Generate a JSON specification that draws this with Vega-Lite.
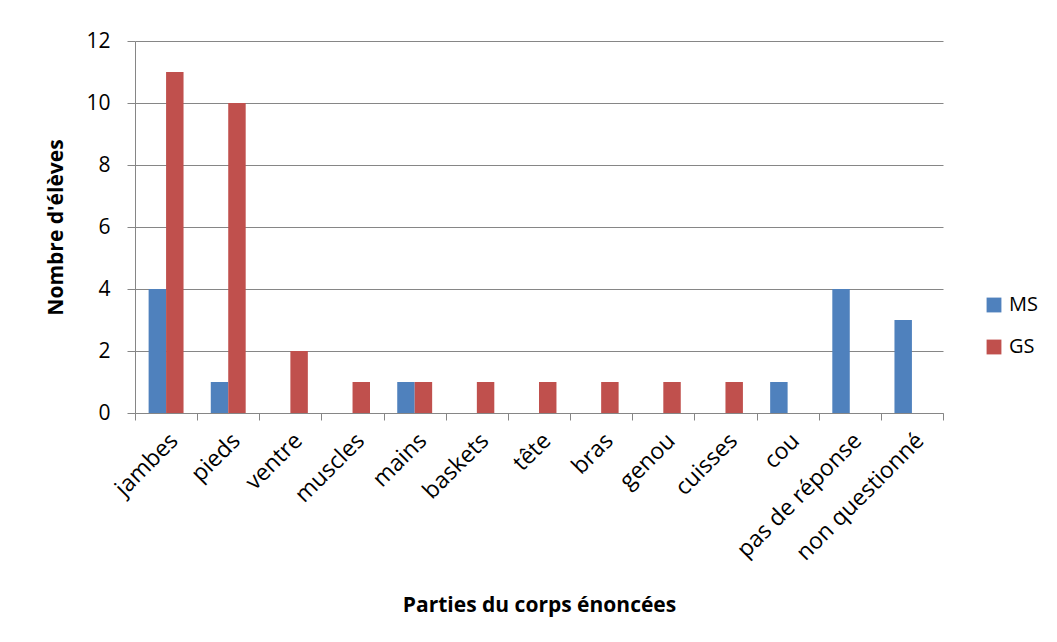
{
  "$schema": "https://vega.github.io/schema/vega-lite/v6.json",
  "autosize": "none",
  "width": 808,
  "height": 372,
  "padding": {"left": 135, "top": 41, "right": 114, "bottom": 229},
  "background": "white",
  "data": {"values": [
    {"partie": "jambes", "groupe": "MS", "n": 4},
    {"partie": "jambes", "groupe": "GS", "n": 11},
    {"partie": "pieds", "groupe": "MS", "n": 1},
    {"partie": "pieds", "groupe": "GS", "n": 10},
    {"partie": "ventre", "groupe": "MS", "n": 0},
    {"partie": "ventre", "groupe": "GS", "n": 2},
    {"partie": "muscles", "groupe": "MS", "n": 0},
    {"partie": "muscles", "groupe": "GS", "n": 1},
    {"partie": "mains", "groupe": "MS", "n": 1},
    {"partie": "mains", "groupe": "GS", "n": 1},
    {"partie": "baskets", "groupe": "MS", "n": 0},
    {"partie": "baskets", "groupe": "GS", "n": 1},
    {"partie": "tête", "groupe": "MS", "n": 0},
    {"partie": "tête", "groupe": "GS", "n": 1},
    {"partie": "bras", "groupe": "MS", "n": 0},
    {"partie": "bras", "groupe": "GS", "n": 1},
    {"partie": "genou", "groupe": "MS", "n": 0},
    {"partie": "genou", "groupe": "GS", "n": 1},
    {"partie": "cuisses", "groupe": "MS", "n": 0},
    {"partie": "cuisses", "groupe": "GS", "n": 1},
    {"partie": "cou", "groupe": "MS", "n": 1},
    {"partie": "cou", "groupe": "GS", "n": 0},
    {"partie": "pas de réponse", "groupe": "MS", "n": 4},
    {"partie": "pas de réponse", "groupe": "GS", "n": 0},
    {"partie": "non questionné", "groupe": "MS", "n": 3},
    {"partie": "non questionné", "groupe": "GS", "n": 0}
  ]},
  "mark": {"type": "bar"},
  "encoding": {
    "x": {
      "field": "partie", "type": "nominal", "sort": null,
      "scale": {"paddingInner": 0, "paddingOuter": 0},
      "axis": {
        "title": "Parties du corps énoncées",
        "titleFont": "Open Sans", "titleFontSize": 21, "titleFontWeight": "bold", "titleColor": "#000",
        "titlePadding": 30,
        "labelFont": "Open Sans", "labelFontSize": 23, "labelColor": "#000",
        "labelAngle": -45, "labelPadding": 9,
        "domainColor": "#868686", "tickColor": "#868686", "tickSize": 7,
        "tickBand": "extent",
        "grid": false
      }
    },
    "xOffset": {
      "field": "groupe", "type": "nominal", "sort": ["MS", "GS"],
      "scale": {"paddingInner": 0, "paddingOuter": 0.78}
    },
    "y": {
      "field": "n", "type": "quantitative",
      "scale": {"domain": [0, 12], "nice": false},
      "axis": {
        "title": "Nombre d'élèves",
        "titleFont": "Open Sans", "titleFontSize": 21, "titleFontWeight": "bold", "titleColor": "#000",
        "titlePadding": 19,
        "values": [0, 2, 4, 6, 8, 10, 12],
        "labelFont": "Open Sans", "labelFontSize": 21, "labelColor": "#000", "labelPadding": 17,
        "domainColor": "#868686", "tickColor": "#868686", "tickSize": 8,
        "gridColor": "#868686", "gridWidth": 1
      }
    },
    "color": {
      "field": "groupe", "type": "nominal", "sort": ["MS", "GS"],
      "scale": {"domain": ["MS", "GS"], "range": ["#4F81BD", "#C0504D"]},
      "legend": {
        "title": null, "orient": "none", "legendX": 849, "legendY": 254,
        "symbolType": "square", "symbolSize": 220, "symbolStrokeWidth": 0,
        "labelFont": "Open Sans", "labelFontSize": 20, "labelColor": "#000",
        "rowPadding": 22, "labelOffset": 5
      }
    }
  },
  "config": {"view": {"stroke": null}}
}
